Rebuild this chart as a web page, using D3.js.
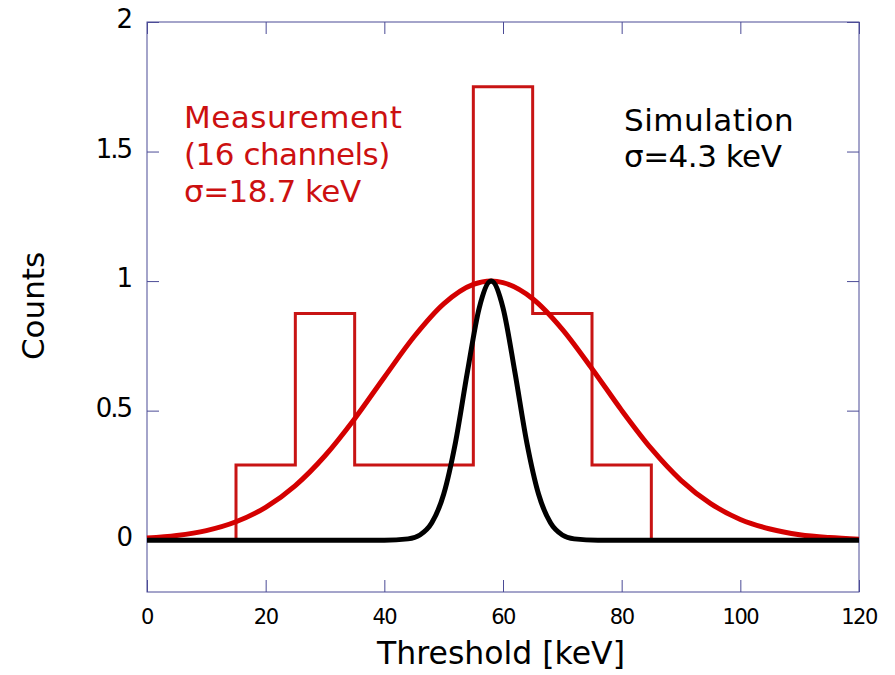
<!DOCTYPE html>
<html>
<head>
<meta charset="utf-8">
<script src="https://cdn.jsdelivr.net/npm/d3@7"></script>
<style>
  body { margin: 0; background: #fff; }
  text { font-family: "DejaVu Sans", sans-serif; }
</style>
</head>
<body>
<svg width="895" height="675"></svg>
<script>
// histogram of the 16 measured channels (bin edges in keV, counts per bin)
var binEdges = [15, 25, 35, 45, 55, 65, 75, 85];
var binCounts = [0.29, 0.875, 0.29, 0.29, 1.75, 0.875, 0.29];

var measX = [0, 5, 10, 15, 20, 25, 30, 35, 40, 45, 50, 55, 58, 60, 65, 70, 75, 80, 85, 90, 95, 100, 105, 110, 115, 120];
var measY = [0.008, 0.018, 0.037, 0.071, 0.127, 0.211, 0.326, 0.469, 0.629, 0.785, 0.912, 0.987, 1.0, 0.994, 0.932, 0.814, 0.662, 0.501, 0.353, 0.231, 0.141, 0.080, 0.043, 0.021, 0.010, 0.004];

// simulation, sigma = 4.3 keV
var simX = [0, 20, 40, 44, 46, 48, 50, 52, 54, 56, 58, 60, 62, 64, 66, 68, 70, 72, 76, 96, 120];
var simY = [0, 0, 0, 0.005, 0.02, 0.067, 0.177, 0.378, 0.649, 0.897, 1.0, 0.897, 0.649, 0.378, 0.177, 0.067, 0.02, 0.005, 0, 0, 0];

var xTicks = [0, 20, 40, 60, 80, 100, 120];
var yTicks = [0, 0.5, 1, 1.5, 2];

var svg = d3.select('svg');
var plotLeft = 147, plotRight = 859, plotTop = 22, plotBottom = 592;
var frameColor = '#4b4b96';
var red = '#d40000';

var x = d3.scaleLinear().domain([0, 120]).range([plotLeft, plotRight]);
var y = d3.scaleLinear().domain([-0.2, 2]).range([plotBottom, plotTop]);

// frame
svg.append('rect')
    .attr('x', plotLeft).attr('y', plotTop)
    .attr('width', plotRight - plotLeft).attr('height', plotBottom - plotTop)
    .attr('fill', 'none')
    .attr('stroke', frameColor)
    .attr('stroke-width', 1);

// ticks on all four sides, pointing inwards
var tl = 12;
function noDomain(g){ g.select('.domain').remove(); }
svg.append('g')
    .attr('transform', 'translate(0,' + plotBottom + ')')
    .call(d3.axisBottom(x).tickValues(xTicks).tickSizeInner(-tl).tickSizeOuter(0).tickFormat(''))
    .call(noDomain);
svg.append('g')
    .attr('transform', 'translate(0,' + plotTop + ')')
    .call(d3.axisTop(x).tickValues(xTicks).tickSizeInner(-tl).tickSizeOuter(0).tickFormat(''))
    .call(noDomain);
svg.append('g')
    .attr('transform', 'translate(' + plotLeft + ',0)')
    .call(d3.axisLeft(y).tickValues(yTicks).tickSizeInner(-tl).tickSizeOuter(0).tickFormat(''))
    .call(noDomain);
svg.append('g')
    .attr('transform', 'translate(' + plotRight + ',0)')
    .call(d3.axisRight(y).tickValues(yTicks).tickSizeInner(-tl).tickSizeOuter(0).tickFormat(''))
    .call(noDomain);
svg.selectAll('.tick line').attr('stroke', frameColor);

// tick labels
svg.selectAll('.xlab')
    .data(xTicks)
    .enter()
    .append('text')
    .attr('class', 'xlab')
    .attr('x', function(d){ return x(d); })
    .attr('y', 624)
    .attr('text-anchor', 'middle')
    .attr('font-size', 21)
    .attr('letter-spacing', -1.5)
    .text(function(d){ return d; });

svg.selectAll('.ylab')
    .data(yTicks)
    .enter()
    .append('text')
    .attr('class', 'ylab')
    .attr('x', 131)
    .attr('y', function(d){ return y(d) + 6; })
    .attr('text-anchor', 'end')
    .attr('font-size', 26)
    .attr('letter-spacing', -2)
    .text(function(d){ return d; });

// axis titles
svg.append('text')
    .attr('x', 501).attr('y', 664)
    .attr('text-anchor', 'middle')
    .attr('font-size', 31.5)
    .text('Threshold [keV]');
svg.append('text')
    .attr('transform', 'translate(44,306) rotate(-90)')
    .attr('text-anchor', 'middle')
    .attr('font-size', 31)
    .text('Counts');

// histogram as a closed step outline
var histPts = [{x: binEdges[0], y: 0}];
binCounts.forEach(function(c, i){
    histPts.push({x: binEdges[i], y: c});
    histPts.push({x: binEdges[i + 1], y: c});
});
histPts.push({x: binEdges[binEdges.length - 1], y: 0});

var lineFunction = d3.line()
    .x(function(d){ return x(d.x); })
    .y(function(d){ return y(d.y); });

svg.append('path')
    .datum(histPts)
    .attr('d', lineFunction)
    .attr('fill', 'none')
    .attr('stroke', '#c81414')
    .attr('stroke-width', 3);

var curve = d3.line()
    .curve(d3.curveMonotoneX)
    .x(function(d){ return x(d.x); })
    .y(function(d){ return y(d.y); });

svg.append('path')
    .datum(measX.map(function(v, i){ return {x: v, y: measY[i]}; }))
    .attr('d', curve)
    .attr('fill', 'none')
    .attr('stroke', red)
    .attr('stroke-width', 5);

svg.append('path')
    .datum(simX.map(function(v, i){ return {x: v, y: simY[i]}; }))
    .attr('d', curve)
    .attr('fill', 'none')
    .attr('stroke', '#000')
    .attr('stroke-width', 5);

// annotations
var measText = ['Measurement', '(16 channels)', '\u03c3=18.7 keV'];
svg.selectAll('.mtxt')
    .data(measText)
    .enter()
    .append('text')
    .attr('class', 'mtxt')
    .attr('x', 184)
    .attr('y', function(d, i){ return 128 + i * 37; })
    .attr('font-size', 31)
    .attr('fill', '#cc1010')
    .attr('letter-spacing', function(d, i){ return i === 0 ? 0.5 : -0.5; })
    .text(function(d){ return d; });

var simText = ['Simulation', '\u03c3=4.3 keV'];
svg.selectAll('.stxt')
    .data(simText)
    .enter()
    .append('text')
    .attr('class', 'stxt')
    .attr('x', 624)
    .attr('y', function(d, i){ return 131 + i * 36; })
    .attr('font-size', 31)
    .attr('fill', '#000')
    .attr('letter-spacing', function(d, i){ return i === 0 ? 0.5 : -0.5; })
    .text(function(d){ return d; });
</script>
</body>
</html>
